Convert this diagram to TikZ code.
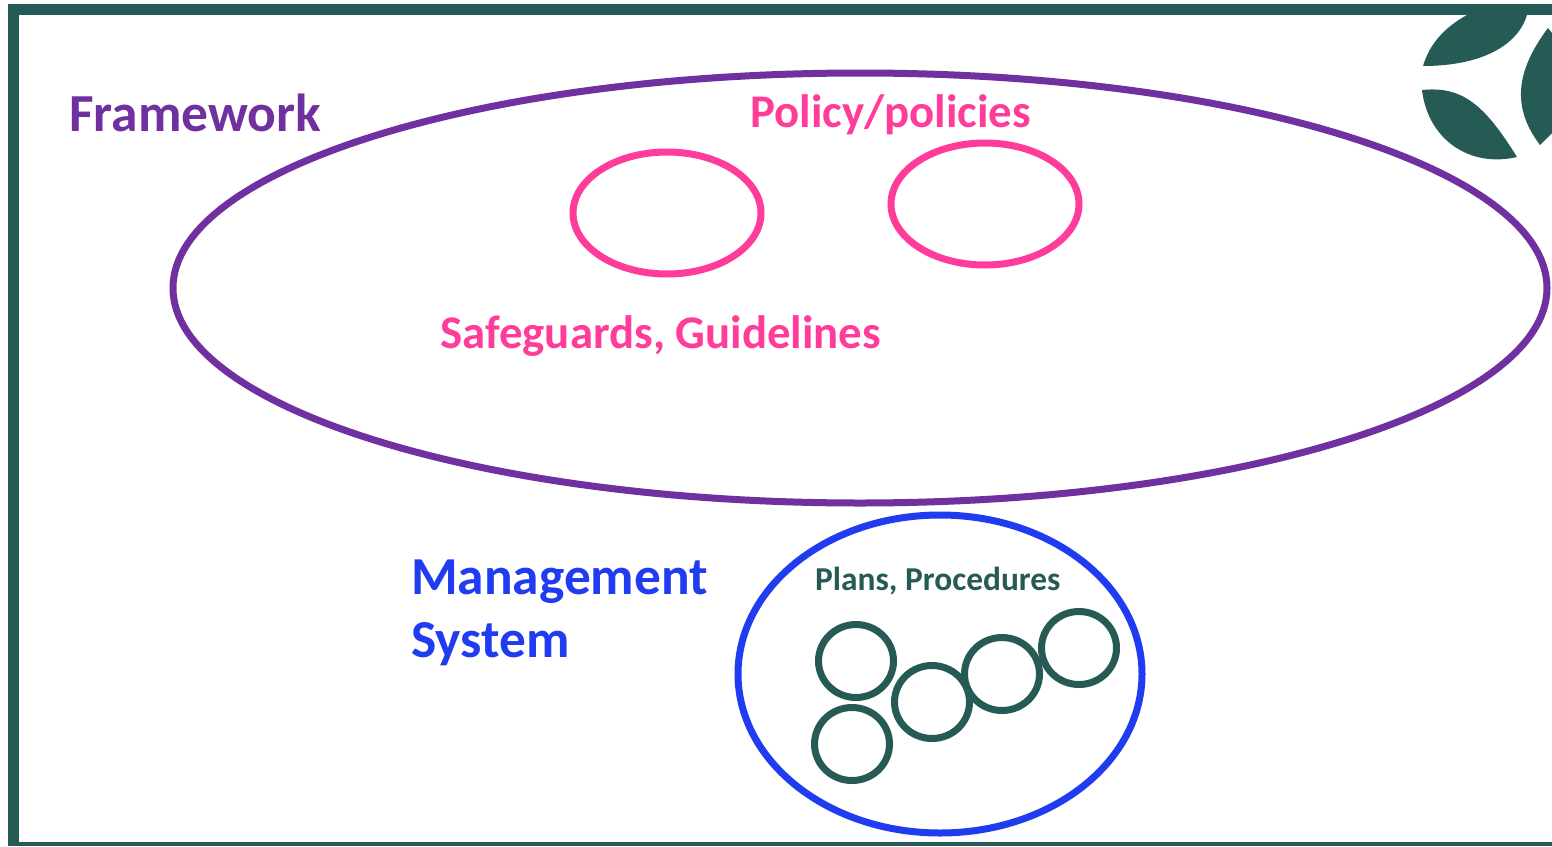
\documentclass[tikz,border=0pt]{standalone}
\usepackage{fontspec}
\setmainfont{Carlito}
\usepackage{xcolor}
\usetikzlibrary{shapes.geometric}
\definecolor{frameteal}{HTML}{265A55}
\definecolor{frampurple}{HTML}{7030A0}
\definecolor{polpink}{HTML}{FF3C9A}
\definecolor{mgmtblue}{HTML}{1F3CF0}
\tikzset{
    ring/.style={draw, ellipse, inner sep=0pt, fill=none, line width=7pt},
    lab/.style={inner sep=0pt, anchor=west},
}
\begin{document}
\begin{tikzpicture}[x=1pt, y=-1pt]
            \useasboundingbox (0, 0) rectangle (1552, 846);
            % outer frame
            \fill[frameteal] (8, 4) rectangle (1552, 846);
            \fill[white] (19, 15) rectangle (1552, 842);
            % leaf logo
            \fill[frameteal] (1423, 66) .. controls (1430, 42) and (1447, 26) .. (1467, 15) -- (1527, 15) .. controls (1518, 45) and (1482, 66) .. (1423, 66) -- cycle;
            \fill[frameteal] (1422, 90) .. controls (1462, 86) and (1484, 104) .. (1517, 157) .. controls (1470, 168) and (1428, 140) .. (1422, 90) -- cycle;
            \fill[frameteal] (1548, 28) -- (1552, 33) -- (1552, 133) -- (1540, 145) .. controls (1512, 108) and (1515, 72) .. (1548, 28) -- cycle;
            % framework
            \node[ring, frampurple, minimum width=1374pt, minimum height=430pt] (framework) at (860, 288) {};
            \node[lab, frampurple, font=\fontsize{53.5}{53.5}\bfseries] (frameworklab) at (69, 113) {Framework};
            \node[lab, polpink, font=\fontsize{46.8}{46.8}\bfseries] (policylab) at (750, 115) {Policy/policies};
            \node[ring, polpink, minimum width=188pt, minimum height=122pt] (safeguard) at (667, 213) {};
            \node[ring, polpink, minimum width=188pt, minimum height=122pt] (policy) at (985, 204) {};
            \node[lab, polpink, font=\fontsize{46.8}{46.8}\bfseries] (safeguardlab) at (440, 336) {Safeguards, Guidelines};
            % management system
            \node[ring, mgmtblue, minimum width=404pt, minimum height=318pt] (mgmt) at (940, 674) {};
            \node[lab, mgmtblue, font=\fontsize{53.4}{53.4}\bfseries] (mgmtlab) at (411, 582) {Management};
            \node[lab, mgmtblue, font=\fontsize{53.4}{53.4}\bfseries] (systemlab) at (411, 644) {System};
            \node[lab, frameteal, font=\fontsize{33.4}{33.4}\bfseries] (planslab) at (815, 581) {Plans, Procedures};
            \foreach \name/\x/\y in {planone/856/661, plantwo/852/744, planthree/932/702, planfour/1002/674, planfive/1079/648} {
                \node[ring, frameteal, minimum width=75pt, minimum height=73pt] (\name) at (\x, \y) {};
            }
        \end{tikzpicture}
\end{document}
